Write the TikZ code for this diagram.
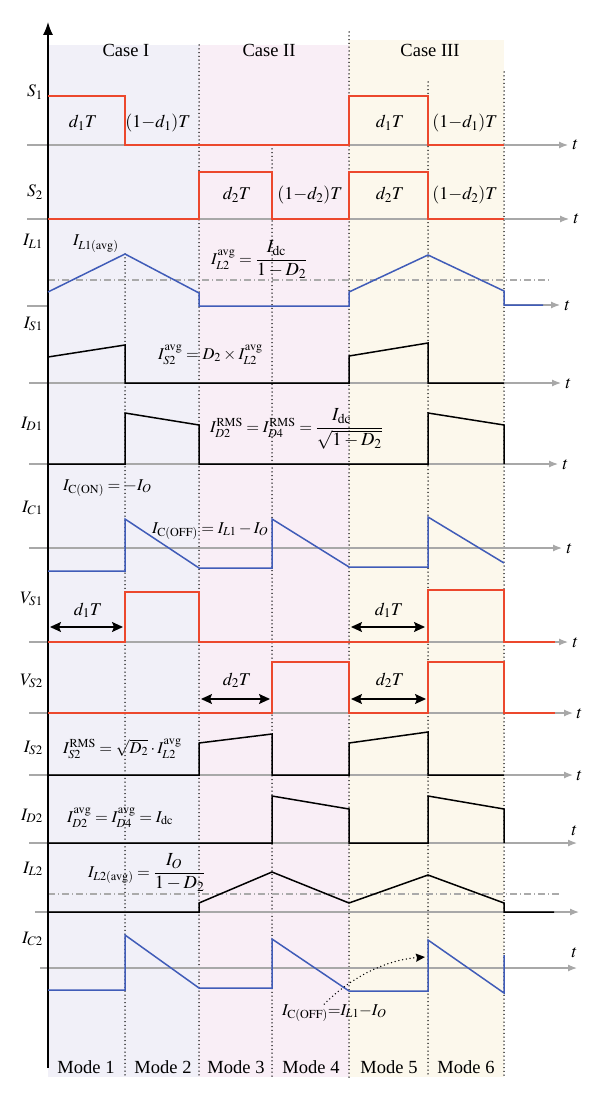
\documentclass[tikz,border=0pt]{standalone}
\usepackage{amsmath}
\usepackage{mathptmx}
\usepackage{fontspec}
\setmainfont{Liberation Serif}
\usetikzlibrary{arrows.meta,calc}
\definecolor{redc}{RGB}{236,72,45}
\definecolor{bluec}{RGB}{64,92,184}
\definecolor{axg}{RGB}{168,168,168}
\definecolor{dashg}{RGB}{170,170,170}
\definecolor{bgI}{RGB}{241,240,248}
\definecolor{bgII}{RGB}{249,238,246}
\definecolor{bgIII}{RGB}{252,248,236}
\newcommand{\bigfrac}[2]{\dfrac{\scalebox{1.12}{$#1$}}{\scalebox{1.12}{$#2$}}}
\tikzset{
  lbl/.style={font=\fontsize{18}{21}\selectfont, inner sep=0pt},
  casel/.style={font=\fontsize{18.5}{22}\selectfont, inner sep=0pt, anchor=base},
  frm/.style={font=\fontsize{16.5}{20}\selectfont, inner sep=0pt, anchor=base west},
  rowlbl/.style={font=\fontsize{17.5}{20}\selectfont, inner sep=0pt, anchor=base east},
  tl/.style={font=\fontsize{18}{20}\selectfont, inner sep=0pt, anchor=base west},
  wave/.style={line width=1.5pt, line join=miter},
  redw/.style={wave, draw=redc},
  bluew/.style={wave, draw=bluec},
  blackw/.style={wave, draw=black},
  axisline/.style={draw=axg, line width=1.2pt},
  axisarr/.style={axisline, -{Latex[length=9pt,width=7pt]}},
  dotline/.style={draw=black, line width=1.5pt, dash pattern=on 0pt off 3.8pt, line cap=round},
  avgline/.style={draw=dashg, line width=1.1pt, dash pattern=on 7pt off 3pt on 1pt off 3pt},
  dblarr/.style={line width=1.4pt, {Stealth[length=11pt,width=10pt,inset=2pt]}-{Stealth[length=11pt,width=10pt,inset=2pt]}}
}
\begin{document}
\begin{tikzpicture}[x=1pt,y=-1pt]
\useasboundingbox (0,0) rectangle (600,1099);
% backgrounds
\fill[bgI] (48,45) rectangle (199,1077);
\fill[bgII] (199,45) rectangle (349,1077);
\fill[bgIII] (349,40) rectangle (504,1077);
% dotted dividers
\draw[dotline] (125,254) -- (125,1077);
\draw[dotline] (199,45) -- (199,1077);
\draw[dotline] (272,145) -- (272,1077);
\draw[dotline] (349,32) -- (349,1077);
\draw[dotline] (428,82) -- (428,1077);
\draw[dotline] (504,72) -- (504,1077);
% case and mode labels
\node[casel] (c1) at (126,57) {Case I};
\node[casel] (c2) at (269,57) {Case II};
\node[casel] (c3) at (430,57) {Case III};
\node[casel] (m1) at (86,1073) {Mode 1};
\node[casel] (m2) at (163,1073) {Mode 2};
\node[casel] (m3) at (236,1073) {Mode 3};
\node[casel] (m4) at (311,1073) {Mode 4};
\node[casel] (m5) at (389,1073) {Mode 5};
\node[casel] (m6) at (466,1073) {Mode 6};
% time axes
\draw[axisarr] (27,145) -- (568,145) node[tl] (t1) at (572,150) {$t$};
\draw[axisarr] (27,219) -- (569,219) node[tl] (t2) at (573,224) {$t$};
\draw[axisline] (27,306) -- (48,306);
\draw[axisarr] (504,305) -- (560,305) node[tl] (t3) at (564,310) {$t$};
\draw[axisarr] (29,383) -- (561,383) node[tl] (t4) at (565,388) {$t$};
\draw[axisarr] (29,464) -- (558,464) node[tl] (t5) at (562,469) {$t$};
\draw[axisarr] (29,548) -- (562,548) node[tl] (t6) at (566,553) {$t$};
\draw[axisarr] (29,642) -- (568,642) node[tl] (t7) at (572,647) {$t$};
\draw[axisarr] (29,713) -- (573,713) node[tl] (t8) at (576,718) {$t$};
\draw[axisarr] (29,775) -- (573,775) node[tl] (t9) at (576,780) {$t$};
\draw[axisarr] (29,843) -- (577,843) node[tl] (t10) at (571,835) {$t$};
\draw[axisarr] (35,912) -- (579,912);
\draw[axisarr] (40,968) -- (577,968) node[tl] (t12) at (571,957) {$t$};
% average lines
\draw[avgline] (48,280) -- (550,280);
\draw[avgline] (48,894) -- (561,894);
% vertical axis
\draw[line width=1.4pt, -{Latex[length=13pt,width=10pt]}] (48,1068) -- (48,22);
% row labels
\node[rowlbl] (lS1) at (43,97) {$S_1$};
\node[rowlbl] (lS2) at (43,197) {$S_2$};
\node[rowlbl] (lIL1) at (43,246) {$I_{L1}$};
\node[rowlbl] (lIS1) at (43,328) {$I_{S1}$};
\node[rowlbl] (lID1) at (43,428) {$I_{D1}$};
\node[rowlbl] (lIC1) at (43,512) {$I_{C1}$};
\node[rowlbl] (lVS1) at (43,603) {$V_{S1}$};
\node[rowlbl] (lVS2) at (43,685) {$V_{S2}$};
\node[rowlbl] (lIS2) at (43,752) {$I_{S2}$};
\node[rowlbl] (lID2) at (43,820) {$I_{D2}$};
\node[rowlbl] (lIL2) at (43,873) {$I_{L2}$};
\node[rowlbl] (lIC2) at (43,943) {$I_{C2}$};
% S1
\draw[redw] (48,96) -- (125,96) -- (125,145) -- (349,145) -- (349,96) -- (428,96) -- (428,145) -- (504,145);
\node[lbl, anchor=base] (a1) at (83,128) {$d_1T$};
\node[lbl, anchor=base] (a2) at (158,128) {$(1{-}d_1)T$};
\node[lbl, anchor=base] (a3) at (390,128) {$d_1T$};
\node[lbl, anchor=base] (a4) at (465,128) {$(1{-}d_1)T$};
% S2
\draw[redw] (48,219) -- (199,219) -- (199,172) -- (272,172) -- (272,219) -- (349,219) -- (349,172) -- (428,172) -- (428,219) -- (504,219);
\node[lbl, anchor=base] (b1) at (237,200) {$d_2T$};
\node[lbl, anchor=base] (b2) at (310,200) {$(1{-}d_2)T$};
\node[lbl, anchor=base] (b3) at (390,200) {$d_2T$};
\node[lbl, anchor=base] (b4) at (465,200) {$(1{-}d_2)T$};
% IL1
\draw[bluew] (48,292) -- (125,254) -- (199,293) -- (199,306) -- (349,306) -- (349,292) -- (428,255) -- (504,291) -- (504,305) -- (543,305);
\node[frm] (f1) at (73,246) {$I_{L1(\mathrm{avg})}$};
\node[frm] (f2) at (211,264) {$I_{L2}^{\mathrm{avg}}=\bigfrac{I_{\mathrm{dc}}}{1-D_2}$};
% IS1
\draw[blackw] (48,357) -- (125,345) -- (125,383) -- (349,383) -- (349,356) -- (428,343) -- (428,383) -- (504,383);
\node[frm] (f3) at (158,359) {$I_{S2}^{\mathrm{avg}}=D_2\times I_{L2}^{\mathrm{avg}}$};
% ID1
\draw[blackw] (48,464) -- (125,464) -- (125,413) -- (199,425) -- (199,464) -- (428,464) -- (428,413) -- (504,425) -- (504,464);
\node[frm] (f4) at (210,432) {$I_{D2}^{\mathrm{RMS}}=I_{D4}^{\mathrm{RMS}}=\bigfrac{I_{\mathrm{dc}}}{\sqrt{1-D_2}}$};
% IC1
\draw[bluew] (48,571) -- (125,571) -- (125,519) -- (199,568) -- (272,568) -- (272,519) -- (349,567) -- (428,567) -- (428,517) -- (504,563);
\node[frm] (f5) at (63,490) {$I_{\mathrm{C(ON)}}=-I_O$};
\node[frm] (f6) at (152,533) {$I_{\mathrm{C(OFF)}}=I_{L1}-I_O$};
% VS1
\draw[redw] (48,642) -- (125,642) -- (125,592) -- (199,592) -- (199,642) -- (428,642) -- (428,590) -- (504,590) -- (504,642) -- (555,642);
\node[lbl, anchor=base] (e1) at (88,615) {$d_1T$};
\node[lbl, anchor=base] (e2) at (389,615) {$d_1T$};
\coordinate (e1l) at (50,627); \coordinate (e1r) at (123,627);
\coordinate (e2l) at (351,627); \coordinate (e2r) at (425,627);
\draw[dblarr] (e1l) -- (e1r);
\draw[dblarr] (e2l) -- (e2r);
% VS2
\draw[redw] (48,713) -- (272,713) -- (272,662) -- (349,662) -- (349,713) -- (428,713) -- (428,662) -- (504,662) -- (504,713) -- (555,713);
\node[lbl, anchor=base] (g1) at (237,685) {$d_2T$};
\node[lbl, anchor=base] (g2) at (390,685) {$d_2T$};
\coordinate (g1l) at (201,699); \coordinate (g1r) at (270,699);
\coordinate (g2l) at (351,699); \coordinate (g2r) at (426,699);
\draw[dblarr] (g1l) -- (g1r);
\draw[dblarr] (g2l) -- (g2r);
% IS2
\draw[blackw] (48,775) -- (199,775) -- (199,743) -- (272,734) -- (272,775) -- (349,775) -- (349,743) -- (428,732) -- (428,775) -- (504,775);
\node[frm] (f7) at (63,753) {$I_{S2}^{\mathrm{RMS}}=\sqrt{D_2}\cdot I_{L2}^{\mathrm{avg}}$};
% ID2
\draw[blackw] (48,843) -- (272,843) -- (272,796) -- (349,809) -- (349,843) -- (428,843) -- (428,796) -- (504,809) -- (504,843);
\node[frm] (f8) at (67,822) {$I_{D2}^{\mathrm{avg}}=I_{D4}^{\mathrm{avg}}=I_{\mathrm{dc}}$};
% IL2
\draw[blackw] (48,912) -- (199,912) -- (199,903) -- (272,872) -- (349,903) -- (428,875) -- (504,903) -- (504,912) -- (554,912);
\node[frm] (f9) at (88,877) {$I_{L2(\mathrm{avg})}=\bigfrac{I_O}{1-D_2}$};
% IC2
\draw[bluew] (48,990) -- (125,990) -- (125,935) -- (199,988) -- (272,988) -- (272,939) -- (349,991) -- (428,991) -- (428,940) -- (504,993) -- (504,955);
\node[frm] (f10) at (282,1015) {$I_{\mathrm{C(OFF)}}{=}I_{L1}{-}I_O$};
\coordinate (annend) at (425,957);
\draw[dotline, -{Stealth[length=9pt,width=8pt,inset=1pt]}] ($(f10.north)+(-10,0)$) .. controls (350,978) and (385,960) .. (annend);
\end{tikzpicture}
\end{document}
